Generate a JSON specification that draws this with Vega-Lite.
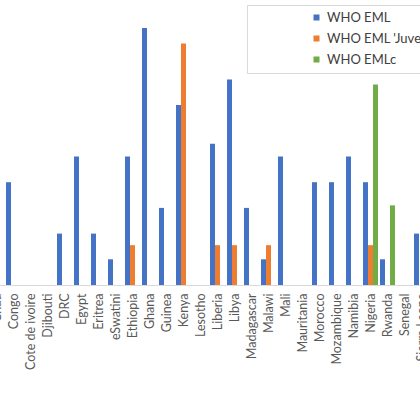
{
  "$schema": "https://vega.github.io/schema/vega-lite/v6.json",
  "autosize": {"type": "none"},
  "width": 442,
  "height": 285,
  "padding": {"left": -12, "top": 0, "right": -10, "bottom": 135},
  "background": "white",
  "data": {
    "values": [
      {"country": "Congo", "list": "WHO EML", "count": 4},
      {"country": "DRC", "list": "WHO EML", "count": 2},
      {"country": "Egypt", "list": "WHO EML", "count": 5},
      {"country": "Eritrea", "list": "WHO EML", "count": 2},
      {"country": "eSwatini", "list": "WHO EML", "count": 1},
      {"country": "Ethiopia", "list": "WHO EML", "count": 5},
      {"country": "Ethiopia", "list": "WHO EML 'Juvenile Formulary'", "count": 1.55},
      {"country": "Ghana", "list": "WHO EML", "count": 10},
      {"country": "Guinea", "list": "WHO EML", "count": 3},
      {"country": "Kenya", "list": "WHO EML", "count": 7},
      {"country": "Kenya", "list": "WHO EML 'Juvenile Formulary'", "count": 9.4},
      {"country": "Liberia", "list": "WHO EML", "count": 5.5},
      {"country": "Liberia", "list": "WHO EML 'Juvenile Formulary'", "count": 1.55},
      {"country": "Libya", "list": "WHO EML", "count": 8},
      {"country": "Libya", "list": "WHO EML 'Juvenile Formulary'", "count": 1.55},
      {"country": "Madagascar", "list": "WHO EML", "count": 3},
      {"country": "Malawi", "list": "WHO EML", "count": 1},
      {"country": "Malawi", "list": "WHO EML 'Juvenile Formulary'", "count": 1.55},
      {"country": "Mali", "list": "WHO EML", "count": 5},
      {"country": "Morocco", "list": "WHO EML", "count": 4},
      {"country": "Mozambique", "list": "WHO EML", "count": 4},
      {"country": "Namibia", "list": "WHO EML", "count": 5},
      {"country": "Nigeria", "list": "WHO EML", "count": 4},
      {"country": "Nigeria", "list": "WHO EML 'Juvenile Formulary'", "count": 1.55},
      {"country": "Nigeria", "list": "WHO EMLc", "count": 7.8},
      {"country": "Rwanda", "list": "WHO EML", "count": 1},
      {"country": "Rwanda", "list": "WHO EMLc", "count": 3.1},
      {"country": "Sierra Leone", "list": "WHO EML", "count": 2}
    ]
  },
  "mark": {"type": "bar"},
  "encoding": {
    "x": {
      "field": "country",
      "type": "nominal",
      "sort": null,
      "scale": {
        "domain": ["Chad", "Congo", "Cote de ivoire", "Djibouti", "DRC", "Egypt", "Eritrea", "eSwatini", "Ethiopia", "Ghana", "Guinea", "Kenya", "Lesotho", "Liberia", "Libya", "Madagascar", "Malawi", "Mali", "Mauritania", "Morocco", "Mozambique", "Namibia", "Nigeria", "Rwanda", "Senegal", "Sierra Leone"],
        "paddingInner": 0,
        "paddingOuter": 0
      },
      "axis": {
        "title": null,
        "labelAngle": -90,
        "labelFont": "Lato",
        "labelFontSize": 12.5,
        "labelColor": "#595959",
        "labelPadding": 8,
        "ticks": false,
        "domainColor": "#d9d9d9",
        "labelOverlap": false
      }
    },
    "xOffset": {
      "field": "list",
      "type": "nominal",
      "scale": {
        "domain": ["WHO EML", "WHO EML 'Juvenile Formulary'", "WHO EMLc"],
        "paddingInner": 0,
        "paddingOuter": 0.2
      }
    },
    "y": {
      "field": "count",
      "type": "quantitative",
      "scale": {"domain": [0, 11.09], "nice": false},
      "axis": null
    },
    "color": {
      "field": "list",
      "type": "nominal",
      "scale": {
        "domain": ["WHO EML", "WHO EML 'Juvenile Formulary'", "WHO EMLc"],
        "range": ["#4472C4", "#ED7D31", "#70AD47"]
      },
      "legend": {
        "title": null,
        "orient": "none",
        "legendX": 259,
        "legendY": 5,
        "strokeColor": "#d9d9d9",
        "fillColor": "white",
        "padding": 6,
        "symbolOffset": 57,
        "symbolType": "square",
        "symbolSize": 36,
        "symbolStrokeWidth": 0,
        "labelOffset": 4,
        "labelFont": "Lato",
        "labelFontSize": 13,
        "labelColor": "#404040",
        "labelLimit": 300,
        "rowPadding": 7
      }
    }
  },
  "config": {"view": {"stroke": null}}
}
